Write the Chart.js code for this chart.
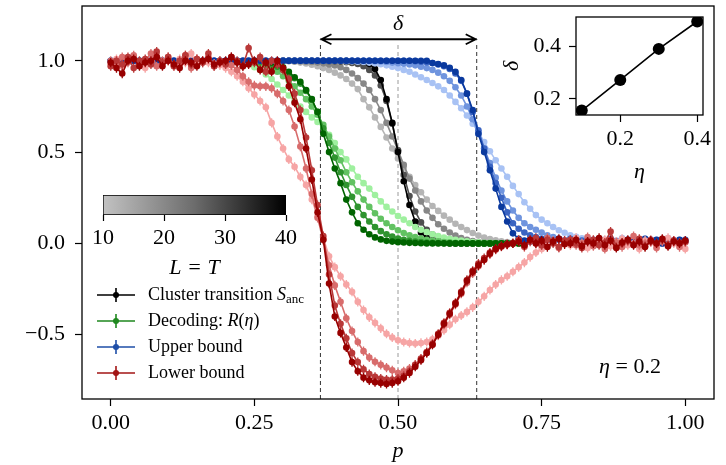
<!DOCTYPE html>
<html>
<head>
<meta charset="utf-8">
<script src="https://cdn.jsdelivr.net/npm/chart.js@4/dist/chart.umd.min.js"></script>
<style>
  html, body { margin: 0; padding: 0; background: #fff; }
  #wrap { position: relative; width: 726px; height: 465px; }
  canvas { position: absolute; }
</style>
</head>
<body>
<div id="wrap">
  <canvas id="mainChart" width="726" height="465" style="left:0;top:0;width:726px;height:465px"></canvas>
  <canvas id="barChart" width="250" height="100" style="left:70px;top:185px;width:250px;height:100px"></canvas>
  <canvas id="insetChart" width="236" height="190" style="left:490px;top:0;width:236px;height:190px"></canvas>
</div>
<script>
// p grid (x axis)
const pAll = [
  0.00, 0.01, 0.02, 0.03, 0.04, 0.05, 0.06, 0.07, 0.08, 0.09,
  0.10, 0.11, 0.12, 0.13, 0.14, 0.15, 0.16, 0.17, 0.18, 0.19,
  0.20, 0.21, 0.22, 0.23, 0.24, 0.25, 0.26, 0.27, 0.28, 0.29,
  0.30, 0.31, 0.32, 0.33, 0.34, 0.35, 0.36, 0.37, 0.38, 0.39,
  0.40, 0.41, 0.42, 0.43, 0.44, 0.45, 0.46, 0.47, 0.48, 0.49,
  0.50, 0.51, 0.52, 0.53, 0.54, 0.55, 0.56, 0.57, 0.58, 0.59,
  0.60, 0.61, 0.62, 0.63, 0.64, 0.65, 0.66, 0.67, 0.68, 0.69,
  0.70, 0.71, 0.72, 0.73, 0.74, 0.75, 0.76, 0.77, 0.78, 0.79,
  0.80, 0.81, 0.82, 0.83, 0.84, 0.85, 0.86, 0.87, 0.88, 0.89,
  0.90, 0.91, 0.92, 0.93, 0.94, 0.95, 0.96, 0.97, 0.98, 0.99,
  1.00
];
const pBlack = pAll.slice(30, 71);   // 0.30 .. 0.70
const pGreen = pAll.slice(25, 73);   // 0.25 .. 0.72
const sizes = [10, 20, 30, 40];      // L = T

// Cluster transition S_anc  (p = 0.30 .. 0.70)
const blackL10 = [1.0, 0.998, 0.995, 0.99, 0.985, 0.978, 0.97, 0.96, 0.95, 0.935,
  0.92, 0.90, 0.875, 0.845, 0.79, 0.745, 0.69, 0.638, 0.58, 0.52,
  0.465, 0.415, 0.365, 0.32, 0.28, 0.24, 0.205, 0.178, 0.152, 0.13,
  0.108, 0.09, 0.073, 0.057, 0.043, 0.032, 0.024, 0.017, 0.012, 0.008,
  0.005];
const blackL20 = [1.0, 0.999, 0.998, 0.997, 0.995, 0.993, 0.99, 0.986, 0.98, 0.974,
  0.965, 0.95, 0.93, 0.905, 0.875, 0.84, 0.79, 0.73, 0.66, 0.585,
  0.51, 0.43, 0.355, 0.29, 0.23, 0.18, 0.14, 0.105, 0.08, 0.06,
  0.043, 0.03, 0.02, 0.013, 0.008, 0.005, 0.003, 0.002, 0.001, 0,
  0];
const blackL30 = [1.0, 1.0, 1.0, 1.0, 1.0, 1.0, 1.0, 0.999, 0.998, 0.997,
  0.995, 0.992, 0.988, 0.982, 0.97, 0.95, 0.92, 0.865, 0.78, 0.655,
  0.51, 0.375, 0.26, 0.175, 0.115, 0.075, 0.048, 0.03, 0.018, 0.01,
  0.006, 0.003, 0.002, 0.001, 0, 0, 0, 0, 0, 0,
  0];
const blackL40 = [1.0, 1.0, 1.0, 1.0, 1.0, 1.0, 1.0, 1.0, 1.0, 1.0,
  1.0, 1.0, 0.999, 0.997, 0.993, 0.983, 0.955, 0.895, 0.79, 0.66,
  0.50, 0.34, 0.21, 0.12, 0.06, 0.03, 0.015, 0.007, 0.003, 0.001,
  0, 0, 0, 0, 0, 0, 0, 0, 0, 0,
  0];

// Decoding R(eta)  (p = 0.25 .. 0.72)
const greenL10 = [0.965, 0.95, 0.925, 0.90, 0.87, 0.84, 0.81, 0.78, 0.75, 0.72,
  0.69, 0.665, 0.635, 0.595, 0.55, 0.50, 0.46, 0.41, 0.365, 0.33,
  0.30, 0.265, 0.23, 0.20, 0.175, 0.15, 0.13, 0.11, 0.09, 0.075,
  0.062, 0.05, 0.04, 0.032, 0.025, 0.02, 0.015, 0.011, 0.008, 0.006,
  0.004, 0.003, 0.002, 0.001, 0, 0, 0, 0];
const greenL20 = [0.99, 0.985, 0.975, 0.96, 0.94, 0.915, 0.89, 0.86, 0.825, 0.79,
  0.75, 0.705, 0.65, 0.585, 0.52, 0.455, 0.39, 0.335, 0.285, 0.24,
  0.20, 0.165, 0.135, 0.11, 0.09, 0.072, 0.057, 0.045, 0.035, 0.027,
  0.02, 0.015, 0.011, 0.008, 0.006, 0.004, 0.003, 0.002, 0.001, 0,
  0, 0, 0, 0, 0, 0, 0, 0];
const greenL30 = [1.0, 0.995, 0.99, 0.98, 0.968, 0.95, 0.93, 0.905, 0.875, 0.835,
  0.785, 0.72, 0.63, 0.55, 0.47, 0.39, 0.32, 0.255, 0.20, 0.155,
  0.12, 0.09, 0.067, 0.05, 0.037, 0.027, 0.02, 0.014, 0.01, 0.007,
  0.005, 0.003, 0.002, 0.001, 0, 0, 0, 0, 0, 0,
  0, 0, 0, 0, 0, 0, 0, 0];
const greenL40 = [1.0, 1.0, 0.995, 0.99, 0.98, 0.965, 0.94, 0.91, 0.885, 0.84,
  0.79, 0.72, 0.60, 0.50, 0.41, 0.33, 0.24, 0.17, 0.11, 0.075,
  0.05, 0.033, 0.022, 0.014, 0.01, 0.007, 0.005, 0.003, 0.002, 0.001,
  0, 0, 0, 0, 0, 0, 0, 0, 0, 0,
  0, 0, 0, 0, 0, 0, 0, 0];

// Upper bound  (p = 0 .. 1)
const blueL10 = [1, 1, 1, 1, 1, 1, 1, 1, 1, 1,
  1, 1, 1, 1, 1, 1, 1, 1, 1, 1,
  1, 1, 1, 1, 1, 1, 1, 1, 1, 1,
  1, 1, 1, 1, 1, 1, 1, 1, 1, 1,
  1, 0.998, 0.997, 0.995, 0.993, 0.99, 0.986, 0.981, 0.975, 0.968,
  0.96, 0.95, 0.94, 0.925, 0.91, 0.895, 0.878, 0.86, 0.84, 0.81,
  0.775, 0.74, 0.70, 0.655, 0.61, 0.555, 0.505, 0.455, 0.41, 0.365,
  0.315, 0.27, 0.225, 0.19, 0.155, 0.13, 0.11, 0.09, 0.072, 0.058,
  0.045, 0.036, 0.028, 0.022, 0.018, 0.02, 0.01, 0.025, 0.015, 0.03,
  0.01, 0.02, 0.005, 0.025, 0.015, 0.02, 0.01, 0.03, 0.015, 0.02,
  0.01];
const blueL20 = [1, 1, 1, 1, 1, 1, 1, 1, 1, 1,
  1, 1, 1, 1, 1, 1, 1, 1, 1, 1,
  1, 1, 1, 1, 1, 1, 1, 1, 1, 1,
  1, 1, 1, 1, 1, 1, 1, 1, 1, 1,
  1, 1, 1, 1, 1, 1, 0.998, 0.996, 0.993, 0.99,
  0.987, 0.984, 0.98, 0.975, 0.968, 0.96, 0.95, 0.935, 0.915, 0.89,
  0.855, 0.81, 0.75, 0.68, 0.60, 0.52, 0.44, 0.36, 0.29, 0.23,
  0.18, 0.14, 0.11, 0.09, 0.075, 0.06, 0.045, 0.035, 0.025, 0.018,
  0.015, 0.02, 0.01, 0.025, 0.005, 0.015, 0.02, 0.01, 0, 0.02,
  0.015, 0.025, 0.01, 0.005, 0.02, 0.015, 0.01, 0.02, 0.005, 0.015,
  0.01];
const blueL30 = [1, 1, 1, 1, 1, 1, 1, 1, 1, 1,
  1, 1, 1, 1, 1, 1, 1, 1, 1, 1,
  1, 1, 1, 1, 1, 1, 1, 1, 1, 1,
  1, 1, 1, 1, 1, 1, 1, 1, 1, 1,
  1, 1, 1, 1, 1, 1, 1, 1, 1, 1,
  1, 1, 1, 0.998, 0.995, 0.992, 0.988, 0.98, 0.97, 0.955,
  0.93, 0.89, 0.82, 0.72, 0.62, 0.52, 0.42, 0.33, 0.25, 0.17,
  0.11, 0.08, 0.06, 0.045, 0.035, 0.025, 0.015, 0.005, 0.02, 0.01,
  0.025, 0, 0.015, 0.01, 0.02, 0.005, 0.015, 0.025, 0.01, 0,
  0.02, 0.01, 0.015, 0.005, 0.02, 0.01, 0, 0.02, 0.015, 0.01,
  0.02];
const blueL40 = [1, 1, 1, 1, 1, 1, 1, 1, 1, 1,
  1, 1, 1, 1, 1, 1, 1, 1, 1, 1,
  1, 1, 1, 1, 1, 1, 1, 1, 1, 1,
  1, 1, 1, 1, 1, 1, 1, 1, 1, 1,
  1, 1, 1, 1, 1, 1, 1, 1, 1, 1,
  1, 1, 1, 1, 1, 1, 0.988, 0.982, 0.975, 0.962,
  0.94, 0.895, 0.82, 0.73, 0.60, 0.50, 0.40, 0.30, 0.20, 0.12,
  0.055, 0.025, 0.015, 0.01, 0.01, 0.02, 0, 0.015, 0.025, 0.005,
  0.01, 0.02, 0, 0.015, 0.01, 0.025, 0.005, 0.02, 0.01, 0,
  0.02, 0.015, 0.005, 0.025, 0.01, 0.02, 0, 0.015, 0.01, 0.02,
  0.01];

// Lower bound  (p = 0 .. 1)
const redL10 = [0.98, 1.01, 0.97, 1.0, 1.02, 0.99, 0.96, 1.0, 1.03, 0.98,
  1.0, 0.97, 1.01, 0.99, 1.04, 0.98, 1.0, 0.99, 0.985, 0.975,
  0.96, 0.94, 0.915, 0.885, 0.85, 0.815, 0.78, 0.745, 0.66, 0.585,
  0.52, 0.46, 0.42, 0.365, 0.32, 0.24, 0.15, 0.03, -0.07, -0.13,
  -0.18, -0.225, -0.265, -0.32, -0.365, -0.405, -0.435, -0.465, -0.495, -0.515,
  -0.53, -0.54, -0.545, -0.548, -0.545, -0.54, -0.525, -0.505, -0.475, -0.445,
  -0.415, -0.395, -0.375, -0.35, -0.32, -0.29, -0.255, -0.225, -0.20, -0.18,
  -0.155, -0.13, -0.105, -0.075, -0.05, -0.03, -0.01, 0.005, -0.02, 0.01,
  -0.01, 0.03, 0, -0.025, 0.015, -0.005, 0.02, -0.015, 0.01, 0.025,
  -0.01, 0, -0.03, 0.015, 0.005, -0.02, 0.02, 0.03, 0, -0.015,
  -0.03];
const redL20 = [1.0, 0.97, 1.02, 0.99, 1.03, 0.98, 1.0, 1.04, 0.97, 1.0,
  1.02, 0.98, 0.99, 1.03, 0.96, 1.01, 0.99, 1.02, 0.97, 1.0,
  0.99, 0.975, 0.95, 0.915, 0.885, 0.865, 0.86, 0.86, 0.85, 0.82,
  0.78, 0.73, 0.64, 0.53, 0.41, 0.27, 0.14, 0.02, -0.12, -0.23,
  -0.32, -0.41, -0.48, -0.54, -0.59, -0.625, -0.648, -0.665, -0.68, -0.695,
  -0.71, -0.70, -0.685, -0.665, -0.635, -0.60, -0.555, -0.50, -0.445, -0.39,
  -0.335, -0.275, -0.215, -0.165, -0.125, -0.09, -0.06, -0.035, -0.018, -0.008,
  0, 0.01, -0.02, 0.02, 0, -0.01, 0.03, 0.015, -0.025, 0.005,
  0.02, -0.01, 0, 0.035, -0.015, 0.01, -0.03, 0.02, 0.005, -0.02,
  0.01, 0.04, -0.01, 0, 0.02, -0.025, 0.01, -0.005, 0.015, -0.02,
  0.005];
const redL30 = [0.97, 1.0, 0.98, 1.02, 0.96, 1.0, 1.01, 0.98, 1.05, 0.99,
  1.02, 0.97, 1.0, 1.03, 0.98, 1.01, 0.99, 1.04, 0.97, 1.0,
  0.98, 1.02, 1.0, 0.97, 1.07, 0.99, 1.02, 0.94, 1.0, 0.98,
  0.95, 0.90, 0.82, 0.73, 0.58, 0.40, 0.21, 0.04, -0.17, -0.34,
  -0.44, -0.52, -0.60, -0.65, -0.69, -0.715, -0.73, -0.74, -0.745, -0.745,
  -0.74, -0.725, -0.70, -0.665, -0.63, -0.595, -0.55, -0.495, -0.435, -0.38,
  -0.325, -0.265, -0.20, -0.15, -0.11, -0.08, -0.05, -0.03, -0.015, -0.005,
  0, 0.02, -0.015, 0.01, 0.03, -0.01, 0.02, 0, -0.02, 0.015,
  0.02, 0, -0.025, 0.01, 0.02, -0.01, 0.005, 0.065, -0.02, 0,
  0.015, -0.005, 0.025, -0.015, 0.01, 0, 0.02, -0.01, 0.015, 0.005,
  0.01];
const redL40 = [0.99, 0.96, 0.93, 1.0, 1.01, 0.97, 0.99, 1.0, 1.02, 0.97,
  1.0, 0.98, 0.96, 1.0, 0.99, 0.97, 1.0, 1.01, 0.98, 0.99,
  1.0, 1.02, 0.99, 0.97, 0.98, 1.0, 0.95, 0.99, 0.94, 1.0,
  0.96, 0.86, 0.77, 0.68, 0.52, 0.35, 0.17, 0.02, -0.22, -0.40,
  -0.49, -0.57, -0.65, -0.70, -0.735, -0.75, -0.76, -0.765, -0.77, -0.765,
  -0.755, -0.735, -0.71, -0.675, -0.64, -0.60, -0.555, -0.50, -0.44, -0.385,
  -0.33, -0.27, -0.205, -0.155, -0.12, -0.09, -0.055, -0.03, -0.015, -0.005,
  0, 0.01, -0.01, 0.02, 0, 0.015, -0.02, 0.01, 0.025, -0.005,
  0, 0.02, -0.015, 0.01, 0, 0.03, -0.01, 0.015, -0.025, 0.005,
  0.02, -0.01, 0.01, -0.02, 0.015, 0, 0.025, -0.015, 0.01, 0,
  0.015];
const redErr = 0.025;

// inset: delta vs eta
const etaVals = [0.1, 0.2, 0.3, 0.4];
const deltaVals = [0.156, 0.272, 0.390, 0.494];

// marked region for eta = 0.2
const deltaLeft = 0.365;
const deltaMid = 0.5;
const deltaRight = 0.637;

const xTicks = [0, 0.25, 0.5, 0.75, 1.0];
const yTicks = [-0.5, 0, 0.5, 1.0];
const insetTicks = [0.2, 0.4];

const serif = '"Liberation Serif", "Times New Roman", serif';
Chart.defaults.font.family = serif;
Chart.defaults.color = '#000';

const families = [
  { p: pBlack, series: [blackL10, blackL20, blackL30, blackL40], colors: ['#b5b5b5', '#878787', '#4f4f4f', '#000000'] },
  { p: pGreen, series: [greenL10, greenL20, greenL30, greenL40], colors: ['#9ff09f', '#62c262', '#2f942f', '#006400'] },
  { p: pAll, series: [blueL10, blueL20, blueL30, blueL40], colors: ['#a8c2f4', '#6f94de', '#3a64c2', '#0a399e'] },
  { p: pAll, series: [redL10, redL20, redL30, redL40], colors: ['#f6a5a5', '#d86c6c', '#b93838', '#980000'], err: redErr }
];

const datasets = [];
// dashed guide lines (drawn first, underneath)
[[deltaLeft, '#333333'], [deltaMid, '#9a9a9a'], [deltaRight, '#333333']].forEach(([px, col]) => {
  datasets.push({
    data: [{ x: px, y: -0.852 }, { x: px, y: 1.10 }],
    borderColor: col, borderWidth: 1, borderDash: [4, 3], pointRadius: 0
  });
});
families.forEach(f => {
  f.series.forEach((vals, k) => {
    datasets.push({
      data: f.p.map((x, i) => ({ x: x, y: vals[i] })),
      borderColor: f.colors[k],
      backgroundColor: f.colors[k],
      borderWidth: 1.6,
      pointRadius: 3.3,
      pointBorderWidth: 0,
      pointHoverRadius: 3.3,
      tension: 0,
      yErr: f.err
    });
  });
});
// later datasets on top
datasets.forEach((d, i) => { d.order = datasets.length - i; });

const errorBars = {
  id: 'errorBars',
  beforeDatasetDraw(chart, args) {
    const ds = chart.data.datasets[args.index];
    if (!ds.yErr) return;
    const ys = chart.scales.y;
    const c = chart.ctx;
    c.save();
    c.strokeStyle = ds.borderColor;
    c.lineWidth = 1.3;
    c.beginPath();
    args.meta.data.forEach((pt, i) => {
      const v = ds.data[i].y;
      c.moveTo(pt.x, ys.getPixelForValue(v + ds.yErr));
      c.lineTo(pt.x, ys.getPixelForValue(v - ds.yErr));
    });
    c.stroke();
    c.restore();
  }
};

const frame = {
  id: 'frame',
  afterDraw(chart) {
    const { ctx, chartArea: a } = chart;
    ctx.save();
    ctx.strokeStyle = '#000';
    ctx.lineWidth = 1.3;
    ctx.strokeRect(a.left, a.top, a.right - a.left, a.bottom - a.top);
    ctx.restore();
  }
};

const legendRows = [
  { color: '#000000', parts: [['Cluster transition ', 'n'], ['S', 'i'], ['anc', 's']] },
  { color: '#1f881f', parts: [['Decoding: ', 'n'], ['R', 'i'], ['(', 'n'], ['\u03b7', 'i'], [')', 'n']] },
  { color: '#1f4fa8', parts: [['Upper bound', 'n']] },
  { color: '#a31616', parts: [['Lower bound', 'n']] }
];

function drawParts(c, parts, x, y, size) {
  parts.forEach(([txt, kind]) => {
    let dy = 0;
    if (kind === 'i') c.font = 'italic ' + size + 'px ' + serif;
    else if (kind === 's') { c.font = Math.round(size * 0.72) + 'px ' + serif; dy = size * 0.25; }
    else c.font = size + 'px ' + serif;
    c.fillText(txt, x, y + dy);
    x += c.measureText(txt).width;
  });
}

const annotations = {
  id: 'annotations',
  afterDraw(chart) {
    const c = chart.ctx;
    const xs = chart.scales.x, ys = chart.scales.y;
    const a = chart.chartArea;
    c.save();
    // double arrow for delta
    const x1 = xs.getPixelForValue(deltaLeft), x2 = xs.getPixelForValue(deltaRight);
    const ya = ys.getPixelForValue(1.118);
    c.strokeStyle = '#000';
    c.lineWidth = 1.8;
    c.beginPath();
    c.moveTo(x1, ya); c.lineTo(x2, ya);
    c.moveTo(x1 + 11, ya - 5); c.lineTo(x1 + 1, ya); c.lineTo(x1 + 11, ya + 5);
    c.moveTo(x2 - 11, ya - 5); c.lineTo(x2 - 1, ya); c.lineTo(x2 - 11, ya + 5);
    c.stroke();
    c.fillStyle = '#000';
    c.textBaseline = 'middle';
    c.textAlign = 'center';
    c.font = 'italic 22px ' + serif;
    c.fillText('\u03b4', xs.getPixelForValue(deltaMid), ys.getPixelForValue(1.20));
    // eta label
    c.textAlign = 'left';
    drawParts(c, [['\u03b7', 'i'], [' = 0.2', 'n']], xs.getPixelForValue(0.85), ys.getPixelForValue(-0.68), 22);
    // legend
    legendRows.forEach((row, i) => {
      const y = a.top + 289 + i * 26;
      const lx = a.left + 15;
      c.strokeStyle = row.color;
      c.fillStyle = row.color;
      c.lineWidth = 1.6;
      c.beginPath();
      c.moveTo(lx, y); c.lineTo(lx + 38, y);
      c.moveTo(lx + 19, y - 7); c.lineTo(lx + 19, y + 7);
      c.stroke();
      c.beginPath();
      c.arc(lx + 19, y, 3, 0, Math.PI * 2);
      c.fill();
      c.fillStyle = '#000';
      drawParts(c, row.parts, a.left + 66, y, 18);
    });
    c.restore();
  }
};

// keep axis label overhang from shrinking the plot box
const noPadX = s => { s.paddingLeft = 0; s.paddingRight = 0; };
const noPadY = s => { s.paddingTop = 0; s.paddingBottom = 0; };

new Chart(document.getElementById('mainChart'), {
  type: 'line',
  data: { datasets: datasets },
  options: {
    responsive: false,
    animation: false,
    devicePixelRatio: 1,
    events: [],
    layout: { padding: { top: 6, right: 12, left: 0, bottom: 0 } },
    plugins: { legend: { display: false }, tooltip: { enabled: false } },
    scales: {
      x: {
        type: 'linear', min: -0.05, max: 1.05,
        afterBuildTicks: s => { s.ticks = xTicks.map(v => ({ value: v })); },
        afterFit: s => { s.height = 66; noPadX(s); },
        ticks: { font: { size: 22 }, color: '#000', padding: 4, maxRotation: 0, autoSkip: false,
                 callback: v => v.toFixed(2) },
        grid: { drawOnChartArea: false, tickLength: 7, color: '#000', tickColor: '#000', tickWidth: 1.2 },
        border: { display: false },
        title: { display: true, text: 'p', color: '#000', font: { size: 22, style: 'italic' }, padding: { top: 0, bottom: 1 } }
      },
      y: {
        type: 'linear', min: -0.852, max: 1.30,
        afterBuildTicks: s => { s.ticks = yTicks.map(v => ({ value: v })); },
        afterFit: s => { s.width = 82; noPadY(s); },
        ticks: { font: { size: 22 }, color: '#000', padding: 10, autoSkip: false,
                 callback: v => v.toFixed(1).replace('-', '\u2212') },
        grid: { drawOnChartArea: false, tickLength: 7, color: '#000', tickColor: '#000', tickWidth: 1.2 },
        border: { display: false }
      }
    }
  },
  plugins: [errorBars, frame, annotations]
});

// colorbar for L = T
new Chart(document.getElementById('barChart'), {
  type: 'bar',
  data: {
    labels: ['L'],
    datasets: [{
      data: [[sizes[0], sizes[sizes.length - 1]]],
      backgroundColor: ctx => {
        const area = ctx.chart.chartArea;
        if (!area) return '#888';
        const g = ctx.chart.ctx.createLinearGradient(area.left, 0, area.right, 0);
        g.addColorStop(0, '#c2c2c2');
        g.addColorStop(0.5, '#6c6c6c');
        g.addColorStop(1, '#000000');
        return g;
      },
      borderColor: '#000', borderWidth: 1, borderSkipped: false,
      barPercentage: 1, categoryPercentage: 1
    }]
  },
  options: {
    indexAxis: 'y',
    responsive: false,
    animation: false,
    devicePixelRatio: 1,
    events: [],
    layout: { padding: { left: 33, right: 34, top: 10, bottom: 0 } },
    plugins: { legend: { display: false }, tooltip: { enabled: false } },
    scales: {
      x: {
        type: 'linear', min: sizes[0], max: sizes[sizes.length - 1],
        afterBuildTicks: s => { s.ticks = sizes.map(v => ({ value: v })); },
        afterFit: s => { s.height = 70; noPadX(s); },
        ticks: { font: { size: 22 }, color: '#000', padding: 4, maxRotation: 0 },
        grid: { drawOnChartArea: false, tickLength: 6, color: '#000', tickColor: '#000', tickWidth: 1.2 },
        border: { display: false },
        title: { display: true, text: 'L = T', color: '#000', font: { size: 22, style: 'italic' }, padding: { top: 0, bottom: 4 } }
      },
      y: { display: false }
    }
  }
});

// inset: delta vs eta
new Chart(document.getElementById('insetChart'), {
  type: 'line',
  data: {
    datasets: [{
      data: etaVals.map((x, i) => ({ x: x, y: deltaVals[i] })),
      borderColor: '#000', backgroundColor: '#000',
      borderWidth: 1.6, pointRadius: 6, pointBorderWidth: 0, tension: 0
    }]
  },
  options: {
    responsive: false,
    animation: false,
    devicePixelRatio: 1,
    events: [],
    layout: { padding: { top: 17, right: 23, left: 0, bottom: 0 } },
    plugins: { legend: { display: false }, tooltip: { enabled: false } },
    scales: {
      x: {
        type: 'linear', min: 0.085, max: 0.415,
        afterBuildTicks: s => { s.ticks = insetTicks.map(v => ({ value: v })); },
        afterFit: s => { s.height = 75; noPadX(s); },
        ticks: { font: { size: 22 }, color: '#000', padding: 4, maxRotation: 0, callback: v => v.toFixed(1) },
        grid: { drawOnChartArea: false, tickLength: 7, color: '#000', tickColor: '#000', tickWidth: 1.2 },
        border: { display: false },
        title: { display: true, text: '\u03b7', color: '#000', font: { size: 22, style: 'italic' }, padding: { top: 0, bottom: 5 } }
      },
      y: {
        type: 'linear', min: 0.139, max: 0.511,
        afterBuildTicks: s => { s.ticks = insetTicks.map(v => ({ value: v })); },
        afterFit: s => { s.width = 86; noPadY(s); },
        ticks: { font: { size: 22 }, color: '#000', padding: 8, callback: v => v.toFixed(1) },
        grid: { drawOnChartArea: false, tickLength: 7, color: '#000', tickColor: '#000', tickWidth: 1.2 },
        border: { display: false },
        title: { display: true, text: '\u03b4', color: '#000', font: { size: 22, style: 'italic' }, padding: { top: 9, bottom: 0 } }
      }
    }
  },
  plugins: [frame]
});
</script>
</body>
</html>
